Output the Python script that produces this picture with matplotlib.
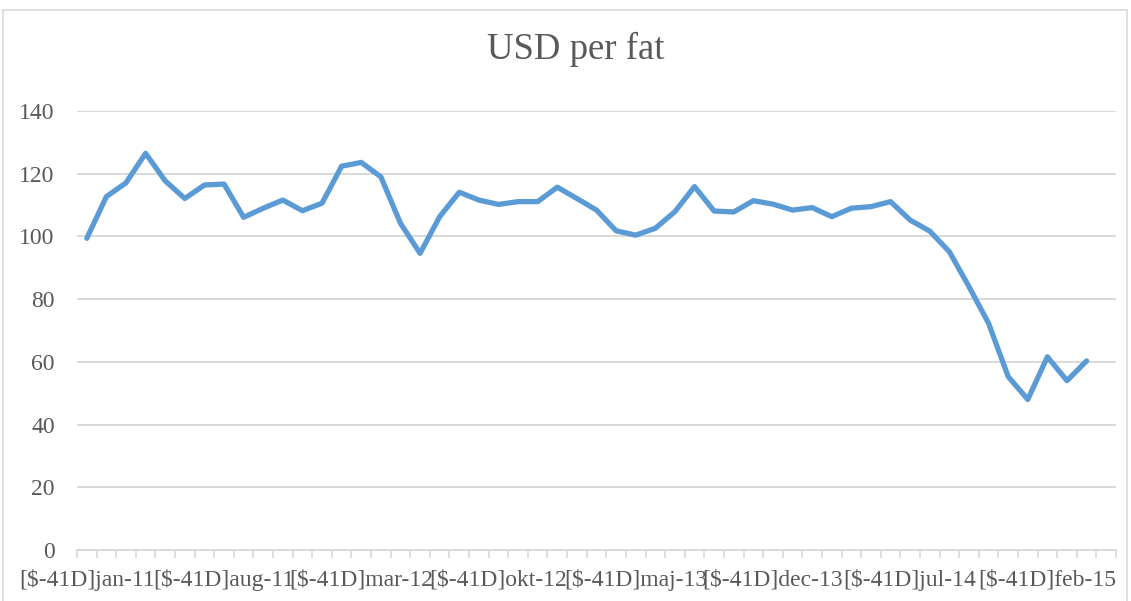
import matplotlib
matplotlib.use("Agg")
import matplotlib.pyplot as plt
import numpy as np
from matplotlib.patches import Rectangle

# ---------------------------------------------------------------------
# Data: monthly USD per barrel, jan-11 .. maj-15 (last month empty)
# ---------------------------------------------------------------------
month_names = ["jan", "feb", "mar", "apr", "maj", "jun",
               "jul", "aug", "sep", "okt", "nov", "dec"]
start_year = 11
n_categories = 53

usd_per_fat = [
    99.4, 112.7, 117.1, 126.5, 117.7, 112.1, 116.4, 116.7, 106.1, 109.0,
    111.6, 108.2, 110.6, 122.4, 123.6, 119.0, 104.2, 94.6, 106.3, 114.1,
    111.6, 110.2, 111.1, 111.1, 115.7, 112.1, 108.4, 101.8, 100.4, 102.6,
    107.9, 115.9, 108.1, 107.8, 111.4, 110.3, 108.4, 109.2, 106.3, 109.0,
    109.5, 111.1, 105.2, 101.7, 95.1, 84.0, 72.3, 55.3, 48.0, 61.6,
    54.0, 60.3,
]
label_every = 7

categories = [
    "[$-41D]%s-%02d" % (month_names[i % 12], start_year + i // 12)
    for i in range(n_categories)
]
values = np.full(n_categories, np.nan)
values[: len(usd_per_fat)] = usd_per_fat

# ---------------------------------------------------------------------
# Plot
# ---------------------------------------------------------------------
plt.rcParams["font.family"] = ["Liberation Serif", "DejaVu Serif"]
text_color = "#595959"
grid_color = "#d9d9d9"

fig = plt.figure(figsize=(11.31, 6.01), dpi=100)
ax = fig.add_axes([77 / 1131, 1 - 550 / 601, (1116 - 77) / 1131, (550 - 111) / 601])

x = np.arange(n_categories)
ax.plot(x, values, color="#5B9BD5", linewidth=3.8,
        solid_joinstyle="round", solid_capstyle="round", zorder=3)

ax.set_xlim(-0.5, n_categories - 0.5)
ax.set_ylim(0, 140)
ax.set_yticks(np.arange(0, 141, 20))
ax.yaxis.grid(True, color=grid_color, linewidth=1.4)
ax.set_axisbelow(True)

label_pos = x[::label_every]
ax.set_xticks(label_pos)
ax.set_xticklabels([categories[i] for i in label_pos])
ax.set_xticks(np.arange(-0.5, n_categories, 1), minor=True)
ax.tick_params(axis="x", which="major", length=0, pad=14,
               labelsize=17, labelcolor=text_color)
ax.tick_params(axis="x", which="minor", length=6, width=1.2,
               color=grid_color, direction="out")
ax.tick_params(axis="y", length=0, pad=16, labelsize=17, labelcolor=text_color)

for side in ["top", "right", "left"]:
    ax.spines[side].set_visible(False)
ax.spines["bottom"].set_color(grid_color)
ax.spines["bottom"].set_linewidth(1.4)

fig.text(0.509, 1 - 49 / 601, "USD per fat", ha="center", va="center",
         fontsize=26.5, color=text_color)

# chart border
fig.patches.append(Rectangle((3 / 1131, -0.05), 1124 / 1131, 1.05 - 10 / 601,
                             transform=fig.transFigure, fill=False,
                             edgecolor=grid_color, linewidth=1.2))

fig.savefig("out.png", dpi=100)
